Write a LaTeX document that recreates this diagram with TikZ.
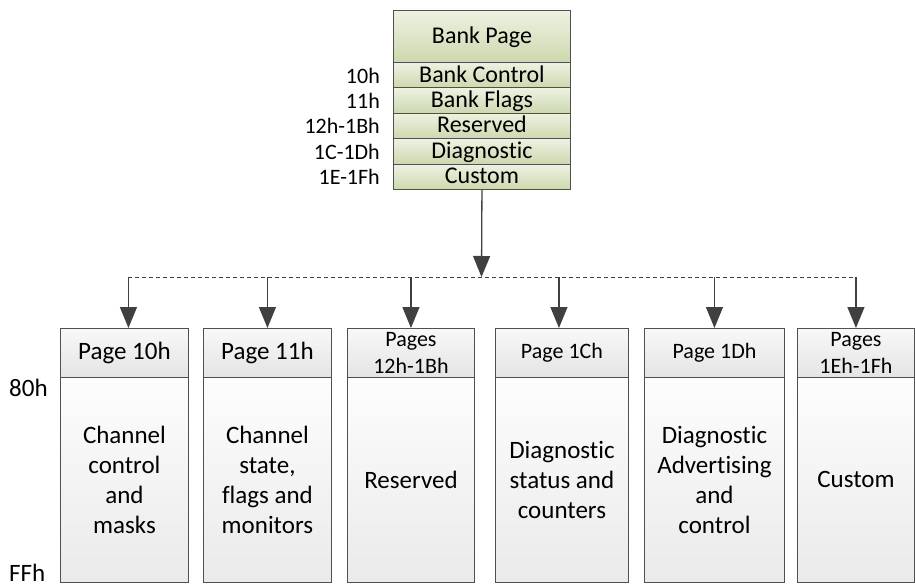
\documentclass[tikz,border=0pt]{standalone}
\usepackage{fontspec}
\setmainfont{Carlito}[Ligatures=NoCommon]
\usetikzlibrary{arrows.meta}
\definecolor{linegray}{HTML}{505050}
\definecolor{arrgray}{HTML}{404040}
\definecolor{gtop}{HTML}{EEF2E2}
\definecolor{gbot}{HTML}{CCD8AE}
\definecolor{htop}{HTML}{F8F8F8}
\definecolor{hbot}{HTML}{E4E4E4}
\definecolor{btop}{HTML}{FDFDFD}
\definecolor{bbot}{HTML}{EAEAEA}
\begin{document}
\begin{tikzpicture}[x=1pt,y=-1pt,
  greenrow/.style={draw=linegray, line width=0.9pt, top color=gtop, bottom color=gbot,
    minimum width=177pt, inner sep=0pt, anchor=north west, text height=18pt, text depth=4pt,
    minimum height=25.4pt, font=\fontsize{24}{25}\selectfont},
  greenhead/.style={greenrow, minimum height=52pt},
  hdr/.style={draw=linegray, line width=0.9pt, top color=htop, bottom color=hbot,
    minimum height=49pt, inner sep=0pt, anchor=north west, align=center,
    font=\fontsize{25}{30}\selectfont},
  hdrsmall/.style={hdr, font=\fontsize{22}{27}\selectfont},
  body/.style={draw=linegray, line width=0.9pt, top color=btop, bottom color=bbot,
    minimum height=205pt, inner sep=0pt, anchor=north west, align=center,
    font=\fontsize{25}{30}\selectfont},
  lbl/.style={inner sep=0pt, font=\fontsize{22}{26}\selectfont},
  biglbl/.style={inner sep=0pt, anchor=west, font=\fontsize{25}{30}\selectfont},
  arr/.style={draw=arrgray, line width=1.3pt, -{Triangle[length=21pt,width=17pt]}, color=arrgray},
  bus/.style={draw=arrgray, line width=0.9pt, dash pattern=on 4pt off 3pt}
]
\useasboundingbox (0,0) rectangle (915,586);

% Bank page stack
\node[greenhead] (bank) at (393,10) {Bank Page};
\node[greenrow] (r1) at (393,62) {Bank Control};
\node[greenrow] (r2) at (393,87.4) {Bank Flags};
\node[greenrow] (r3) at (393,112.8) {Reserved};
\node[greenrow] (r4) at (393,138.2) {Diagnostic};
\node[greenrow] (r5) at (393,163.6) {Custom};

\node[lbl, anchor=base east] (l1) at ([xshift=-13pt,yshift=-1pt]r1.base west) {10h};
\node[lbl, anchor=base east] (l2) at ([xshift=-13pt,yshift=-1pt]r2.base west) {11h};
\node[lbl, anchor=base east] (l3) at ([xshift=-13pt,yshift=-1pt]r3.base west) {12h-1Bh};
\node[lbl, anchor=base east] (l4) at ([xshift=-13pt,yshift=-1pt]r4.base west) {1C-1Dh};
\node[lbl, anchor=base east] (l5) at ([xshift=-13pt,yshift=-1pt]r5.base west) {1E-1Fh};

% Bottom pages
\node[hdr, minimum width=128pt] (h1) at (60,328) {Page 10h};
\node[body, minimum width=128pt] (b1) at (60,377) {Channel\\control\\and\\masks};
\node[hdr, minimum width=128pt] (h2) at (203,328) {Page 11h};
\node[body, minimum width=128pt] (b2) at (203,377) {Channel\\state,\\flags and\\monitors};
\node[hdrsmall, minimum width=127pt] (h3) at (347,328) {Pages\\12h-1Bh};
\node[body, minimum width=127pt] (b3) at (347,377) {Reserved};
\node[hdrsmall, minimum width=133pt] (h4) at (495,328) {Page 1Ch};
\node[body, minimum width=133pt] (b4) at (495,377) {Diagnostic\\status and\\counters};
\node[hdrsmall, minimum width=140pt] (h5) at (644,328) {Page 1Dh};
\node[body, minimum width=140pt] (b5) at (644,377) {Diagnostic\\Advertising\\and\\control};
\node[hdrsmall, minimum width=117pt] (h6) at (797,328) {Pages\\1Eh-1Fh};
\node[body, minimum width=117pt] (b6) at (797,377) {Custom};

\node[biglbl] (a80) at (9,388) {80h};
\node[biglbl, anchor=base west] (aff) at (9,581) {FFh};

% Connectors
\coordinate (bus) at (481.5,277);
\draw[arr] (r5.south) -- (bus);
\draw[bus] ([xshift=4pt]h1.north |- bus) -- (h6.north |- bus);
\draw[arr] ([xshift=4pt]h1.north |- bus) -- ([xshift=4pt]h1.north);
\draw[arr] (h2.north |- bus) -- (h2.north);
\draw[arr] (h3.north |- bus) -- (h3.north);
\draw[arr] ([xshift=-3pt]h4.north |- bus) -- ([xshift=-3pt]h4.north);
\draw[arr] (h5.north |- bus) -- (h5.north);
\draw[arr] (h6.north |- bus) -- (h6.north);
\end{tikzpicture}
\end{document}
